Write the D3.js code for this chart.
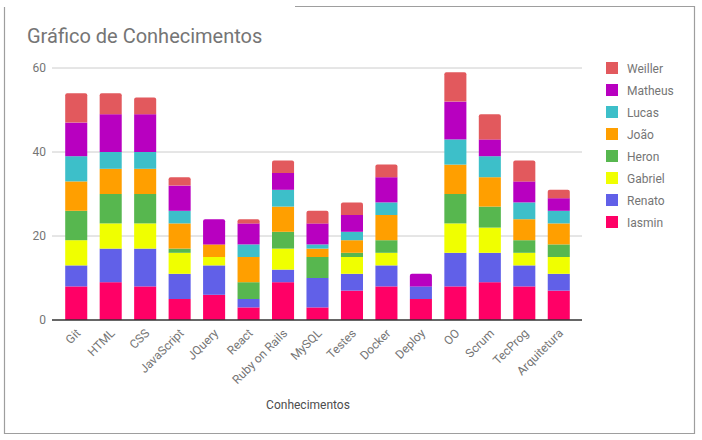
<!DOCTYPE html>
<html>
<head>
<meta charset="utf-8">
<script src="https://cdn.jsdelivr.net/npm/d3@7"></script>
<style>
  body { margin: 0; background: #fff; font-family: Roboto, "Noto Sans", sans-serif; }
  text { font-family: Roboto, "Noto Sans", sans-serif; }
</style>
</head>
<body>
<script>
// categories (x axis)
var categorias = ["Git", "HTML", "CSS", "JavaScript", "JQuery", "React", "Ruby on Rails", "MySQL",
    "Testes", "Docker", "Deploy", "OO", "Scrum", "TecProg", "Arquitetura"];

// series, stacked bottom -> top
var pessoas = ["Iasmin", "Renato", "Gabriel", "Heron", "João", "Lucas", "Matheus", "Weiller"];
var cores = ["#ff0066", "#6160e8", "#f0ff00", "#57b74f", "#ff9f00", "#3dbfc9", "#b800c0", "#e2595d"];

var iasmin  = [8, 9, 8, 5, 6, 3, 9, 3, 7, 8, 5, 8, 9, 8, 7];
var renato  = [5, 8, 9, 6, 7, 2, 3, 7, 4, 5, 3, 8, 7, 5, 4];
var gabriel = [6, 6, 6, 5, 2, 0, 5, 0, 4, 3, 0, 7, 6, 3, 4];
var heron   = [7, 7, 7, 1, 0, 4, 4, 5, 1, 3, 0, 7, 5, 3, 3];
var joao    = [7, 6, 6, 6, 3, 6, 6, 2, 3, 6, 0, 7, 7, 5, 5];
var lucas   = [6, 4, 4, 3, 0, 3, 4, 1, 2, 3, 0, 6, 5, 4, 3];
var matheus = [8, 9, 9, 6, 6, 5, 4, 5, 4, 6, 3, 9, 4, 5, 3];
var weiller = [7, 5, 4, 2, 0, 1, 3, 3, 3, 3, 0, 7, 6, 5, 2];

var yTicks = [0, 20, 40, 60];

var series = [iasmin, renato, gabriel, heron, joao, lucas, matheus, weiller];

var w = 702, h = 440;

var svg = d3.select("body").append("svg")
    .attr("width", w)
    .attr("height", h);

//Border (top edge only on the right part, as in the reference)
var border = svg.append("g").style("stroke", "#9e9e9e").style("stroke-width", 1.2).style("fill", "none");
border.append("path").attr("d", "M4.5,7 V433.5 H694.5 V6.5 H295");

//Title
svg.append("text")
    .attr("x", 27)
    .attr("y", 43)
    .style("font-size", "20px")
    .style("fill", "#757575")
    .text("Gráfico de Conhecimentos");

//Scales
var x = d3.scaleBand()
    .domain(categorias)
    .range([59, 576])
    .paddingInner(0.36)
    .paddingOuter(0.18);

var y = d3.scaleLinear()
    .domain([0, 60])
    .range([320, 68]);

//Gridlines
svg.append("g").selectAll("line")
    .data(yTicks.slice(1))
    .enter()
    .append("line")
    .attr("x1", 52)
    .attr("x2", 582)
    .attr("y1", function(d) { return y(d); })
    .attr("y2", function(d) { return y(d); })
    .style("stroke", "#cccccc")
    .style("stroke-width", 1);

//Y axis labels
var yAxis = d3.axisLeft(y).tickValues(yTicks).tickSize(0).tickPadding(0);
var yg = svg.append("g")
    .attr("transform", "translate(46,0)")
    .call(yAxis);
yg.select(".domain").remove();
yg.selectAll("text")
    .style("font-size", "12px")
    .style("fill", "#757575");

//Stack data
var tabela = categorias.map(function(c, i) {
    var row = { cat: c };
    pessoas.forEach(function(p, j) { row[p] = series[j][i]; });
    return row;
});
var stack = d3.stack().keys(pessoas)(tabela);

//top segment of each bar gets rounded corners
function topIndex(i) {
    var t = -1;
    for (var j = 0; j < series.length; j++) {
        if (series[j][i] > 0) t = j;
    }
    return t;
}

function segPath(x0, y0, wd, y1, round) {
    var r = round ? 2 : 0;
    return "M" + x0 + "," + y1 +
        " V" + (y0 + r) +
        (r ? " Q" + x0 + "," + y0 + " " + (x0 + r) + "," + y0 : "") +
        " H" + (x0 + wd - r) +
        (r ? " Q" + (x0 + wd) + "," + y0 + " " + (x0 + wd) + "," + (y0 + r) : "") +
        " V" + y1 + " Z";
}

svg.append("g").selectAll("g")
    .data(stack)
    .enter()
    .append("g")
    .style("fill", function(d, j) { return cores[j]; })
    .selectAll("path")
    .data(function(d, j) { return d.map(function(s, i) { return { s: s, i: i, j: j }; }); })
    .enter()
    .append("path")
    .attr("d", function(d) {
        var top = y(d.s[1]), bot = y(d.s[0]);
        if (d.s[1] - d.s[0] <= 0) return null;
        return segPath(x(categorias[d.i]), top, x.bandwidth(), bot, d.j === topIndex(d.i));
    });

//Baseline
svg.append("line")
    .attr("x1", 52).attr("x2", 582)
    .attr("y1", y(0)).attr("y2", y(0))
    .style("stroke", "#333333")
    .style("stroke-width", 1.3);

//X axis labels, rotated
var xAxis = d3.axisBottom(x).tickSize(0).tickPadding(0);
var xg = svg.append("g")
    .attr("transform", "translate(0,320)")
    .call(xAxis);
xg.select(".domain").remove();
xg.selectAll("text")
    .style("font-size", "12px")
    .style("fill", "#757575")
    .style("text-anchor", "end")
    .attr("dy", null)
    .attr("y", 0)
    .attr("transform", "translate(5,14) rotate(-45)");

//X axis title
svg.append("text")
    .attr("x", 308)
    .attr("y", 409)
    .style("font-size", "12px")
    .style("fill", "#4d4d4d")
    .style("text-anchor", "middle")
    .text("Conhecimentos");

//Legend (top -> bottom is reverse of stack order)
var legenda = svg.append("g").selectAll("g")
    .data(pessoas.slice().reverse())
    .enter()
    .append("g")
    .attr("transform", function(d, i) { return "translate(606," + (62 + i * 22) + ")"; });

legenda.append("rect")
    .attr("width", 12)
    .attr("height", 12)
    .style("fill", function(d) { return cores[pessoas.indexOf(d)]; });

legenda.append("text")
    .attr("x", 21)
    .attr("y", 10.5)
    .style("font-size", "12px")
    .style("fill", "#757575")
    .text(function(d) { return d; });
</script>
</body>
</html>
